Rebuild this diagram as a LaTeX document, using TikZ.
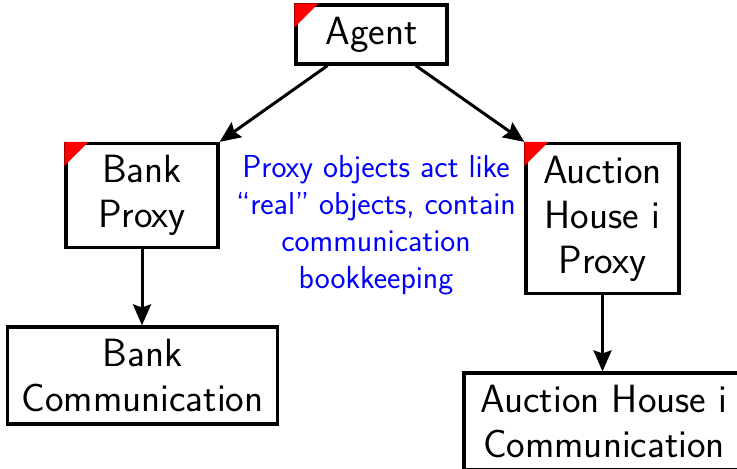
\documentclass[tikz,border=0pt]{standalone}
\usetikzlibrary{arrows.meta}
\tikzset{
  box/.style={draw, line width=1.6pt, align=center, inner sep=0pt, fill=white,
    font=\sffamily\fontsize{19.7}{22.5}\selectfont},
  arr/.style={-{Stealth[length=10.5pt,width=9pt,inset=1.5pt]}, line width=1.5pt},
  note/.style={text=blue, align=center, inner sep=0pt,
    font=\sffamily\fontsize{15.9}{18.5}\selectfont},
  corner/.style={fill=red}
}
\begin{document}
\begin{tikzpicture}[x=0.5pt,y=-0.5pt]
\useasboundingbox (0,0) rectangle (737,468);
\clip (0,0) rectangle (737,468);
\node[box, minimum width=75.5pt, minimum height=29.5pt] (agent) at (371.5,34.5) {Agent};
\node[box, minimum width=76pt, minimum height=52pt] (bp) at (142,195.5) {Bank\\Proxy};
\node[box, minimum width=135pt, minimum height=48.5pt] (bc) at (142.5,375.5) {Bank\\Communication};
\node[box, minimum width=76.5pt, minimum height=75pt] (ap) at (602.5,218.5) {Auction\\House i\\Proxy};
\node[box, minimum width=140pt, minimum height=48.5pt] (ac) at (604,421.5) {Auction House i\\Communication};
\node[note] (nt) at (376,225) {Proxy objects act like\\``real'' objects, contain\\communication\\bookkeeping};
\draw[arr] (agent) -- (bp.north east);
\draw[arr] (agent) -- (ap.north west);
\draw[arr] (bp.south) -- (bp.south |- bc.north);
\draw[arr] (ap.south) -- (ap.south |- ac.north);
\foreach \n in {agent,bp,ap}{
  \fill[corner] (\n.north west) -- ++(12pt,0pt) -- ++(-12pt,-12pt) -- cycle;
}
\end{tikzpicture}
\end{document}
